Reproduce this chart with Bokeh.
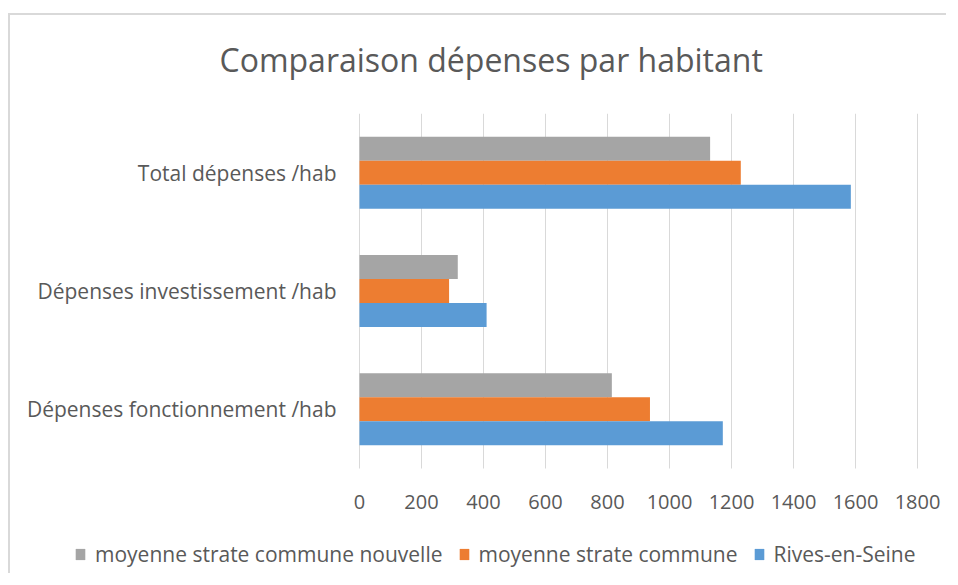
from bokeh.plotting import figure
from bokeh.models import Range1d, ColumnDataSource, Legend, LegendItem, Title, FixedTicker
from bokeh.core.properties import value
from bokeh.transform import dodge
from bokeh.embed import file_html
from bokeh.resources import INLINE

# ---- data ----
categories = ["Dépenses fonctionnement /hab", "Dépenses investissement /hab", "Total dépenses /hab"]
rives_en_seine = [1172, 410, 1585]
moyenne_strate_commune = [937, 289, 1230]
moyenne_strate_commune_nouvelle = [814, 317, 1131]
x_ticks = [0, 200, 400, 600, 800, 1000, 1200, 1400, 1600, 1800]
series_names = ["moyenne strate commune nouvelle", "moyenne strate commune", "Rives-en-Seine"]
title_text = "Comparaison dépenses par habitant"

GREY = "#A5A5A5"
ORANGE = "#ED7D31"
BLUE = "#5B9BD5"
TEXT = "#595959"
GRID = "#D9D9D9"
FONT = "Open Sans"

# ---- layout (pixels) ----
FRAME_LEFT_PAD = 347      # px between frame's left edge and the 0 line
FRAME_RIGHT_PAD = 29      # px between the 1800 line and frame's right edge
AXIS_PX = 558             # px from 0 to 1800
BAND_PX = 355.0 / 3       # px per category band
BELOW_PX = 107            # px of frame below the plot area (axis labels + legend)
px_per_unit = AXIS_PX / x_ticks[-1]
x_start = -FRAME_LEFT_PAD / px_per_unit
x_end = x_ticks[-1] + FRAME_RIGHT_PAD / px_per_unit
n = len(categories)
y_lo, y_hi = -0.5, n - 0.5          # plot-area bounds in category units
y_start = y_lo - BELOW_PX / BAND_PX

src = ColumnDataSource(dict(cat=categories, pos=list(range(n)), rives=rives_en_seine,
                            commune=moyenne_strate_commune,
                            nouvelle=moyenne_strate_commune_nouvelle))
grid_src = ColumnDataSource(dict(tick=x_ticks))

p = figure(width=938, height=560, output_backend="svg", toolbar_location=None,
           y_range=Range1d(y_start, y_hi), x_range=Range1d(x_start, x_end),
           min_border_left=2, min_border_right=2, min_border_top=98, min_border_bottom=0)
p.styles = {"border-left": "2px solid #D9D9D9", "border-top": "2px solid #D9D9D9",
            "margin-top": "13px", "margin-left": "8px"}
p.outline_line_color = None
p.background_fill_color = "white"
p.border_fill_color = "white"

# vertical gridlines over the plot area only
p.segment(x0="tick", y0=y_lo, x1="tick", y1=y_hi, source=grid_src,
          line_color=GRID, line_width=1)
p.xgrid.visible = False
p.ygrid.visible = False

bh = 0.203
r1 = p.hbar(y=dodge("pos", bh), right="nouvelle", height=bh, left=0,
            source=src, fill_color=GREY, line_color=None)
r2 = p.hbar(y=dodge("pos", 0), right="commune", height=bh, left=0,
            source=src, fill_color=ORANGE, line_color=None)
r3 = p.hbar(y=dodge("pos", -bh), right="rives", height=bh, left=0,
            source=src, fill_color=BLUE, line_color=None)

# category labels, right-aligned 23 px left of the 0 line
p.text(x=0, y="pos", text="cat", source=src, x_offset=-23,
       text_align="right", text_baseline="middle",
       text_font=value(FONT), text_font_size="21px", text_color=TEXT)
p.yaxis.visible = False

# value axis, pinned to the bottom of the plot area
p.xaxis.fixed_location = y_lo
p.xaxis.ticker = FixedTicker(ticks=x_ticks)
p.xaxis.axis_line_color = None
p.xaxis.major_tick_line_color = None
p.xaxis.minor_tick_line_color = None
p.xaxis.major_tick_out = 0
p.xaxis.major_tick_in = 0
p.xaxis.major_label_standoff = 26
p.xaxis.major_label_text_font = FONT
p.xaxis.major_label_text_font_size = "20px"
p.xaxis.major_label_text_color = TEXT

# title: a thin spacer next to the frame, then the real title above it
p.add_layout(Title(text=" ", text_font_size="1px", standoff=30), "above")
p.add_layout(Title(text=title_text, align="left", offset=207, vertical_align="bottom", standoff=0,
                   text_font=FONT, text_font_size="32px", text_font_style="normal",
                   text_color=TEXT), "above")

legend = Legend(items=[LegendItem(label=series_names[0], renderers=[r1]),
                       LegendItem(label=series_names[1], renderers=[r2]),
                       LegendItem(label=series_names[2], renderers=[r3])],
                orientation="horizontal", location=(62, 7),
                glyph_width=12, glyph_height=14, label_standoff=9, spacing=15,
                padding=0, margin=0, border_line_color=None, background_fill_alpha=0,
                label_text_font=FONT, label_text_font_size="21px", label_text_color=TEXT)
p.add_layout(legend, "center")

open("out.html", "w").write(file_html(p, INLINE))
